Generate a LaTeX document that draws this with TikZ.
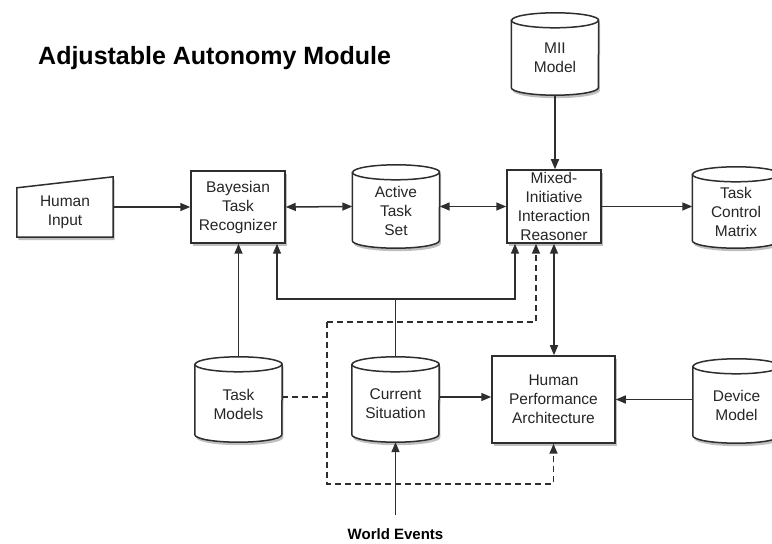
\documentclass[tikz,border=0pt]{standalone}
\usepackage{fontspec}
\setmainfont{Liberation Sans}
\usetikzlibrary{arrows.meta,shadows,backgrounds,calc}
\newcommand\nfont{\fontsize{15.5}{19}\selectfont}
\newcommand\cylshape[1]{%
  \path[cylfill] ([yshift=-7.5pt]#1.north west) -- ([yshift=7.5pt]#1.south west)
    arc[start angle=180,end angle=360,x radius=43.5pt,y radius=7.5pt]
    -- ([yshift=-7.5pt]#1.north east)
    arc[start angle=0,end angle=180,x radius=43.5pt,y radius=7.5pt] -- cycle;
  \draw[line] ([yshift=-7.5pt]#1.north west)
    arc[start angle=180,end angle=360,x radius=43.5pt,y radius=7.5pt];}
\begin{document}
\begin{tikzpicture}[x=1pt,y=1pt,
  line/.style={draw=black!82,line width=1.5pt},
  shad/.style={drop shadow={shadow xshift=1.5pt,shadow yshift=-3pt,opacity=0.25,fill=black}},
  boxnode/.style={line,fill=white,shad,align=center,inner sep=0pt,font=\nfont,text=black!85},
  cylnode/.style={draw=none,inner sep=0pt,minimum width=87pt},
  cylfill/.style={line,fill=white,shad},
  txt/.style={align=center,inner sep=0pt,font=\nfont,text=black!85},
  arr/.style={line,-{Triangle[length=10pt,width=8pt]}},
  biarr/.style={line,{Triangle[length=10pt,width=8pt]}-{Triangle[length=10pt,width=8pt]}},
  dsh/.style={dash pattern=on 6pt off 4pt}]
\useasboundingbox (0,0) rectangle (772,544);

% title
\node[anchor=base west,inner sep=0pt,font=\fontsize{25}{30}\selectfont\bfseries] (title) at (38,479) {Adjustable Autonomy Module};

% boxes
\node[txt,minimum width=96pt,minimum height=49pt] (hi) at (65,331.5) {Human\\Input};
\node[boxnode,minimum width=94pt,minimum height=72pt] (btr) at (238,337) {Bayesian\\Task\\Recognizer};
\node[boxnode,minimum width=94pt,minimum height=73pt] (miir) at (554,337.5) {Mixed-\\Initiative\\Interaction\\Reasoner};
\node[boxnode,minimum width=123pt,minimum height=87pt] (hpa) at (553.5,144.5) {Human\\Performance\\Architecture};

% cylinders
\node[cylnode,minimum height=83pt] (ats) at (396,337.5) {};
\node[cylnode,minimum height=81pt] (tcm) at (736,336.5) {};
\node[cylnode,minimum height=82pt] (mii) at (555,490) {};
\node[cylnode,minimum height=85pt] (tm) at (238.5,144.5) {};
\node[cylnode,minimum height=85pt] (cs) at (395.5,144.5) {};
\node[cylnode,minimum height=84pt] (dm) at (736.5,143) {};

\begin{scope}[on background layer]
  \path[cylfill] (hi.south west) -- (hi.south east) -- ([yshift=11pt]hi.north east) -- (hi.north west) -- cycle;
  \cylshape{ats}
  \cylshape{tcm}
  \cylshape{mii}
  \cylshape{tm}
  \cylshape{cs}
  \cylshape{dm}
\end{scope}

\node[txt] (ats-t) at ([yshift=-4.5pt]ats.center) {Active\\Task\\Set};
\node[txt] (tcm-t) at ([yshift=-4.5pt]tcm.center) {Task\\Control\\Matrix};
\node[txt] (mii-t) at ([yshift=-3.5pt]mii.center) {MII\\Model};
\node[txt] (tm-t) at ([yshift=-4.5pt]tm.center) {Task\\Models};
\node[txt] (cs-t) at ([yshift=-4.5pt]cs.center) {Current\\Situation};
\node[txt] (dm-t) at ([yshift=-4.5pt]dm.center) {Device\\Model};

\node[anchor=base,inner sep=0pt,font=\fontsize{15}{18}\selectfont\bfseries] (we) at (395.5,4) {World Events};
\coordinate (wetop) at (395.5,29);

% coordinates
\coordinate (j) at (395.5,245);
\coordinate (dtop) at (327,222);
\coordinate (dbot) at (327,60);

% connectors
\draw[arr] (hi.east |- btr.west) -- (btr.west);
\draw[biarr] (btr.east) -- (ats.west);
\draw[biarr] (ats.east) -- (ats.east -| miir.west);
\draw[arr] (miir.east) -- (miir.east -| tcm.west);
\draw[arr] (mii.south) -- (mii.south |- miir.north);
\draw[biarr] (miir.south) -- (miir.south |- hpa.north);
\draw[arr] (tm.north) -- (tm.north |- btr.south);
\draw[line] (cs.north) -- (j);
\draw[arr] (j) -| ([xshift=39pt]btr.south);
\draw[arr] (j) -| ([xshift=-39pt]miir.south);
\draw[arr] ([yshift=2.5pt]cs.east) -- ([yshift=2.5pt]cs.east -| hpa.west);
\draw[arr] ([yshift=1.5pt]dm.west) -- ([yshift=1.5pt]dm.west -| hpa.east);
\draw[arr] (wetop) -- (cs.south);
\draw[line,dsh] ([yshift=2.5pt]tm.east) -- ([yshift=2.5pt]tm.east -| dtop);
\draw[arr,dsh] (dtop) -- (dbot) -| (hpa.south);
\draw[arr,dsh] (dtop) -| ([xshift=-18pt]miir.south);
\end{tikzpicture}
\end{document}
